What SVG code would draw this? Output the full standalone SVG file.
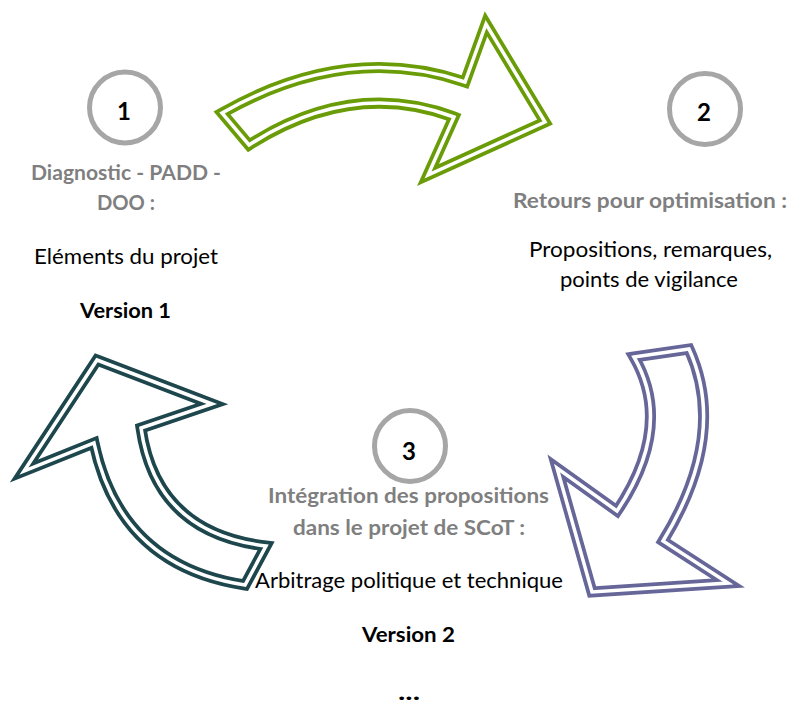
<svg xmlns="http://www.w3.org/2000/svg" width="791" height="706" viewBox="0 0 791 706">
<style>
.bg{fill:#ffffff}
.arrow-o{fill:#ffffff;stroke-width:11;stroke-linejoin:miter;stroke-miterlimit:20}
.arrow-i{fill:none;stroke:#ffffff;stroke-width:3.5;stroke-linejoin:miter;stroke-miterlimit:20}
.ring{fill:#ffffff;stroke:#a6a6a6;stroke-width:5}
.num{font-family:Lato,"Open Sans","Liberation Sans",sans-serif;font-weight:bold;font-size:24px;fill:#000000;text-anchor:middle}
.t{font-family:Lato,"Open Sans","Liberation Sans",sans-serif;font-size:21px;text-anchor:middle}
.g{font-weight:bold;fill:#7f7f7f}
.b{font-weight:bold;fill:#000000}
.r{fill:#000000}
</style>
<rect class="bg" x="0" y="0" width="791" height="706"/>
<g id="connectors">
  <g id="arrow-1-2">
    <path class="arrow-o" stroke="#6a9c08" d="M222,113 Q347,42 465,82 L486,24 L545,122 L428,175 L454,117 Q352,79 249,145 Z"/>
    <path class="arrow-i" d="M222,113 Q347,42 465,82 L486,24 L545,122 L428,175 L454,117 Q352,79 249,145 Z"/>
  </g>
  <g id="arrow-2-3">
    <path class="arrow-o" stroke="#666699" d="M634,357 L689,349 Q728,435 663,541 L728,583 L592,592 L557,468 L617,511 Q674,426 634,357 Z"/>
    <path class="arrow-i" d="M634,357 L689,349 Q728,435 663,541 L728,583 L592,592 L557,468 L617,511 Q674,426 634,357 Z"/>
  </g>
  <g id="arrow-3-1">
    <path class="arrow-o" stroke="#1d474c" d="M97,360 L212,404 L141,428 Q156,533 266,546 L245,585 Q120,566 94,443 L24,471 Z"/>
    <path class="arrow-i" d="M97,360 L212,404 L141,428 Q156,533 266,546 L245,585 Q120,566 94,443 L24,471 Z"/>
  </g>
</g>
<g id="node1">
  <circle class="ring" cx="125" cy="107.5" r="35.5"/>
  <text class="num" x="124" y="119.5">1</text>
  <text class="t g" x="126" y="180" textLength="190" lengthAdjust="spacingAndGlyphs">Diagnostic - PADD -</text>
  <text class="t g" x="126" y="210" textLength="58" lengthAdjust="spacingAndGlyphs">DOO :</text>
  <text class="t r" x="126" y="264" textLength="184" lengthAdjust="spacingAndGlyphs">Eléments du projet</text>
  <text class="t b" x="125.5" y="318" textLength="91" lengthAdjust="spacingAndGlyphs">Version 1</text>
</g>
<g id="node2">
  <circle class="ring" cx="705" cy="109" r="35.5"/>
  <text class="num" x="704" y="121">2</text>
  <text class="t g" x="650" y="208" textLength="274" lengthAdjust="spacingAndGlyphs">Retours pour optimisation :</text>
  <text class="t r" x="650.5" y="257" textLength="243" lengthAdjust="spacingAndGlyphs">Propositions, remarques,</text>
  <text class="t r" x="649" y="287" textLength="178" lengthAdjust="spacingAndGlyphs">points de vigilance</text>
</g>
<g id="node3">
  <circle class="ring" cx="410" cy="446" r="35.5"/>
  <text class="num" x="409" y="460">3</text>
  <text class="t g" x="408.5" y="503" textLength="281" lengthAdjust="spacingAndGlyphs">Intégration des propositions</text>
  <text class="t g" x="409" y="535" textLength="232" lengthAdjust="spacingAndGlyphs">dans le projet de SCoT :</text>
  <text class="t r" x="409" y="588" textLength="308" lengthAdjust="spacingAndGlyphs">Arbitrage politique et technique</text>
  <text class="t b" x="408.5" y="642" textLength="93" lengthAdjust="spacingAndGlyphs">Version 2</text>
  <text class="t b" x="409" y="700" style="font-size:22px" textLength="22" lengthAdjust="spacingAndGlyphs">...</text>
</g>
</svg>
